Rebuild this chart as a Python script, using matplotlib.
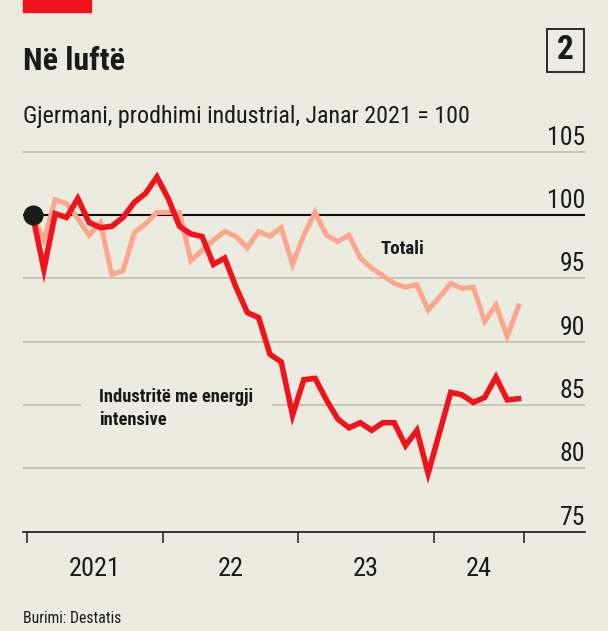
import matplotlib
matplotlib.use("Agg")
import matplotlib.pyplot as plt
from matplotlib import font_manager
from matplotlib.patches import Rectangle
from matplotlib.transforms import offset_copy
import numpy as np
import pandas as pd

# monthly index values, Jan 2021 = 100
months = pd.date_range("2021-01-01", periods=44, freq="MS")
energy = [100.0, 95.7, 100.1, 99.8, 101.3, 99.4, 99.0, 99.1, 99.8, 101.0, 101.7, 103.0,
          101.3, 99.1, 98.5, 98.3, 96.1, 96.6, 94.3, 92.3, 91.9, 89.0, 88.4, 84.2,
          87.0, 87.1, 85.4, 83.9, 83.2, 83.6, 83.0, 83.6, 83.6, 81.8, 83.0, 79.6,
          82.8, 86.0, 85.8, 85.2, 85.6, 87.2, 85.4, 85.5]
total = [100.0, 98.0, 101.2, 100.9, 99.7, 98.4, 99.4, 95.3, 95.6, 98.6, 99.3, 100.2,
         100.2, 100.2, 96.4, 97.2, 98.0, 98.7, 98.3, 97.4, 98.7, 98.3, 99.0, 96.1,
         98.4, 100.2, 98.4, 97.9, 98.4, 96.6, 95.8, 95.2, 94.6, 94.3, 94.5, 92.5,
         93.5, 94.6, 94.2, 94.3, 91.6, 92.9, 90.4, 92.8]
yticks = [75, 80, 85, 90, 95, 100, 105]
year_labels = ["2021", "22", "23", "24"]

BG = "#ecebe0"
RED = "#f2121c"
PINK = "#fca68c"
GRID = "#c6c4bb"
INK = "#1a1a1a"

names = {f.name for f in font_manager.fontManager.ttflist}
narrow = next((n for n in ["Liberation Sans Narrow", "Roboto Condensed", "Open Sans Condensed"]
               if n in names), "Liberation Sans")
plt.rcParams["font.family"] = [narrow, "DejaVu Sans"]

W, H = 608, 631
fig = plt.figure(figsize=(W / 100, H / 100), dpi=100, facecolor=BG)

# axes placed in pixel terms of the reference
unit = 12.67          # px per index point
y75 = 531.7           # px from top for 75
ytop = 106
ax_top = y75 - (ytop - 75) * unit
ax = fig.add_axes([23 / W, (H - y75) / H, 562 / W, (y75 - ax_top) / H])
ax.set_facecolor(BG)

x = np.arange(len(months))
ax.set_xlim(-0.85, 48.88)
ax.set_ylim(75, ytop)

ax.plot(x, total, color=PINK, lw=3.6, solid_joinstyle="miter", zorder=2)
ax.plot(x, energy, color=RED, lw=4.0, solid_joinstyle="miter", zorder=2.2)
ax.plot(x[0], energy[0], "o", ms=13.5, color=INK, zorder=5, clip_on=False)

ax.set_yticks(yticks)
ax.tick_params(axis="y", length=0, labelleft=False)
ax.grid(axis="y", color=GRID, lw=1.4)
ax.set_axisbelow(True)
ax.axhline(100, color="#111111", lw=1.5, zorder=1.6)

for s in ["top", "left", "right"]:
    ax.spines[s].set_visible(False)
ax.spines["bottom"].set_color(INK)
ax.spines["bottom"].set_linewidth(1.2)

ytrans = offset_copy(ax.get_yaxis_transform(), fig=fig, y=5, units="points")
for v in yticks:
    ax.text(1.0, v, str(v), transform=ytrans, ha="right", va="baseline",
            fontsize=18.5, color=INK)

# year boundaries and centred year labels
starts = [i - 0.5 for i, m in enumerate(months) if m.month == 1] + [len(months) - 0.5]
mids = [(a + b) / 2 for a, b in zip(starts[:-1], starts[1:])]
ax.set_xticks(starts)
ax.set_xticklabels([""] * len(starts))
ax.set_xticks(mids, minor=True)
ax.set_xticklabels(year_labels, minor=True)
ax.tick_params(axis="x", which="major", length=8, width=1.1, color=INK)
ax.tick_params(axis="x", which="minor", length=0, pad=18, labelsize=19, labelcolor=INK)

ax.text(30.8, 96.9, "Totali", fontsize=13.6, fontweight="bold", color=INK, va="baseline")
ax.text(5.9, 83.4, "Industritë me energji\nintensive", fontsize=13.3, fontweight="bold",
        color=INK, va="baseline", linespacing=1.35, zorder=1.8,
        bbox=dict(boxstyle="square,pad=1.0", fc=BG, ec="none"))

# header
fig.patches.append(Rectangle((23 / W, 1 - 12 / H), 68 / W, 12 / H, transform=fig.transFigure,
                             color=RED, zorder=3))
fig.text(23 / W, 1 - 70 / H, "Në luftë", fontsize=23, fontweight="bold", color=INK,
         va="baseline")
fig.patches.append(Rectangle((547 / W, 1 - 72 / H), 37 / W, 43 / H, transform=fig.transFigure,
                             fill=False, ec=INK, lw=1.3, zorder=3))
fig.text(565.5 / W, 1 - 50 / H, "2", fontsize=24, fontweight="bold", color=INK,
         ha="center", va="center")
fig.text(23 / W, 1 - 123 / H, "Gjermani, prodhimi industrial, Janar 2021 = 100",
         fontsize=17.3, color=INK, va="baseline")
fig.text(23 / W, 1 - 623 / H, "Burimi: Destatis", fontsize=11.3, color=INK, va="baseline")

fig.savefig("out.png", dpi=100, facecolor=BG)
